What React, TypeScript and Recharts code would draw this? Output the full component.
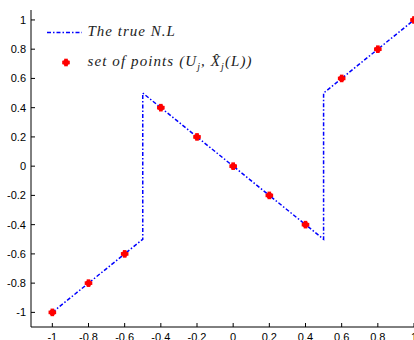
import React from "react";
import {
  ComposedChart,
  Line,
  Scatter,
  XAxis,
  YAxis,
} from "recharts";

// true nonlinearity (with the two jumps)
const nlX = [-1, -0.5, -0.5, 0.5, 0.5, 1];
const nlY = [-1, -0.5, 0.5, -0.5, 0.5, 1];

// estimated points
const ptX = [-1, -0.8, -0.6, -0.4, -0.2, 0, 0.2, 0.4, 0.6, 0.8, 1];
const ptY = [-1, -0.8, -0.6, 0.4, 0.2, 0, -0.2, -0.4, 0.6, 0.8, 1];

const xTicks = [-1, -0.8, -0.6, -0.4, -0.2, 0, 0.2, 0.4, 0.6, 0.8, 1];
const yTicks = [-1, -0.8, -0.6, -0.4, -0.2, 0, 0.2, 0.4, 0.6, 0.8, 1];

const lineData = nlX.map((x, i) => ({ x, y: nlY[i] }));
const pointData = ptX.map((x, i) => ({ x, y: ptY[i] }));

const BLUE = "#0000ff";
const RED = "#ff0000";
const tickFont = { fontFamily: "Liberation Sans, Arial, sans-serif", fontSize: 11, fill: "#000" };
const legendFont = "Liberation Serif, Times New Roman, serif";

const Marker = ({ cx, cy }: any) => {
  if (cx == null || cy == null) return null;
  return (
    <g fill={RED}>
      <rect x={cx - 3.8} y={cy - 1.8} width={7.6} height={3.6} />
      <rect x={cx - 1.8} y={cy - 3.8} width={3.6} height={7.6} />
      <circle cx={cx} cy={cy} r={3} />
    </g>
  );
};

const BottomTick = ({ x, y, payload }: any) => (
  <g>
    <line x1={x} x2={x} y1={y} y2={y - 4} stroke="#000" />
    <text x={x} y={y + 14} textAnchor="middle" {...tickFont}>
      {String(payload.value)}
    </text>
  </g>
);

const TopTick = ({ x, y }: any) => (
  <line x1={x} x2={x} y1={y} y2={y + 4} stroke="#000" />
);

const LeftTick = ({ x, y, payload }: any) => (
  <g>
    <line x1={x} x2={x + 4} y1={y} y2={y} stroke="#000" />
    <text x={x - 5} y={y + 4} textAnchor="end" {...tickFont}>
      {String(payload.value)}
    </text>
  </g>
);

const RightTick = ({ x, y }: any) => (
  <line x1={x} x2={x - 4} y1={y} y2={y} stroke="#000" />
);

// legend drawn over the top-left corner of the plot
const LegendBox = () => (
  <svg
    width={260}
    height={60}
    style={{ position: "absolute", left: 40, top: 20, display: "block", overflow: "visible" }}
  >
    <line
      x1={7}
      x2={42}
      y1={12.5}
      y2={12.5}
      stroke={BLUE}
      strokeWidth={1.5}
      strokeDasharray="4 2 1.5 2"
    />
    <text
      x={47.5}
      y={15.5}
      fontFamily={legendFont}
      fontStyle="italic"
      fontSize={15}
      letterSpacing={1}
      fill="#222"
    >
      The true N.L
    </text>
    <Marker cx={26} cy={42.5} />
    <text
      x={47.5}
      y={46}
      fontFamily={legendFont}
      fontStyle="italic"
      fontSize={15}
      letterSpacing={1.1}
      fill="#222"
    >
      set of points (U
      <tspan dy={4} fontSize={10}>j</tspan>
      <tspan dy={-4}>, X̂</tspan>
      <tspan dy={4} fontSize={10}>j</tspan>
      <tspan dy={-4}>(L))</tspan>
    </text>
  </svg>
);

export default function App() {
  return (
    <div style={{ position: "absolute", left: 0, top: 0, width: 414, height: 340, background: "#fff" }}>
      <ComposedChart
        width={414}
        height={340}
        margin={{ top: 10, right: 0, bottom: 0, left: 0 }}
      >
        <XAxis
          dataKey="x"
          type="number"
          domain={[-1.118, 1]}
          ticks={xTicks}
          allowDataOverflow
          height={13}
          tickSize={0}
          tickMargin={0}
          tick={<BottomTick />}
          stroke="#000"
          interval={0}
        />
        <XAxis
          xAxisId="top"
          orientation="top"
          type="number"
          domain={[-1.118, 1]}
          ticks={xTicks}
          allowDataOverflow
          height={0}
          tickSize={0}
          tickMargin={0}
          tick={<TopTick />}
          stroke="#000"
          interval={0}
        />
        <YAxis
          dataKey="y"
          type="number"
          domain={[-1.1, 1.068]}
          ticks={yTicks}
          allowDataOverflow
          width={31}
          tickSize={0}
          tickMargin={0}
          tick={<LeftTick />}
          stroke="#000"
          interval={0}
        />
        <YAxis
          yAxisId="right"
          orientation="right"
          type="number"
          domain={[-1.1, 1.068]}
          ticks={yTicks}
          allowDataOverflow
          width={0}
          tickSize={0}
          tickMargin={0}
          tick={<RightTick />}
          stroke="#000"
          interval={0}
        />
        <Line
          data={lineData}
          dataKey="y"
          type="linear"
          stroke={BLUE}
          strokeWidth={1.5}
          strokeDasharray="4 2 1.5 2"
          dot={false}
          activeDot={false}
          isAnimationActive={false}
          name="The true N.L"
        />
        <Scatter
          data={pointData}
          dataKey="y"
          fill={RED}
          shape={<Marker />}
          isAnimationActive={false}
          name="set of points"
        />
      </ComposedChart>
      <LegendBox />
    </div>
  );
}
